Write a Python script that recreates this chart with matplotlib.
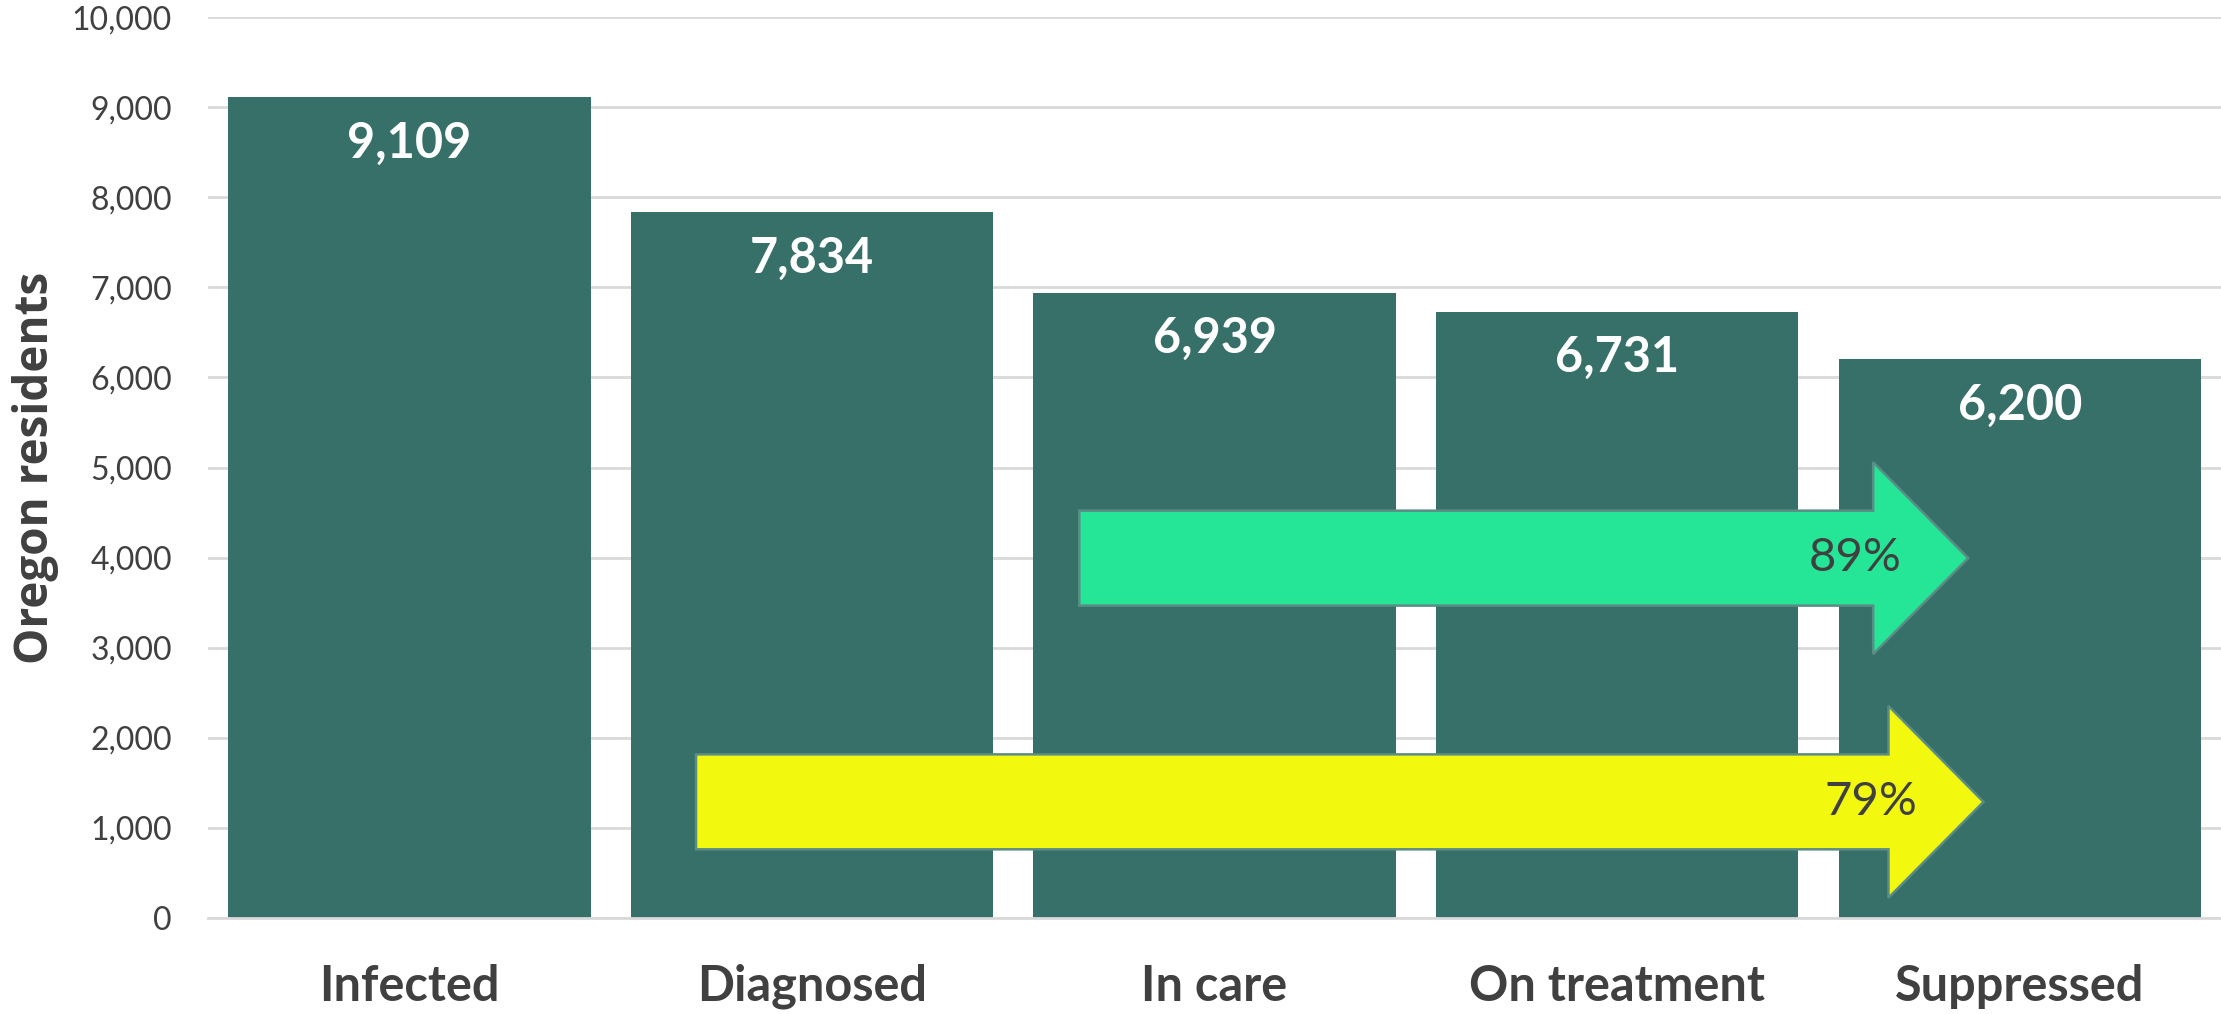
import numpy as np
import matplotlib
matplotlib.use('Agg')
import matplotlib.pyplot as plt
from matplotlib.patches import FancyArrow
from matplotlib.ticker import FuncFormatter

# HIV care continuum, Oregon
stages = ['Infected', 'Diagnosed', 'In care', 'On treatment', 'Suppressed']
residents = [9109, 7834, 6939, 6731, 6200]

# arrows: (from stage, to stage, fill colour)
ratio_arrows = [('In care', 'Suppressed', '#25e597'),
                ('Diagnosed', 'Suppressed', '#f2f90f')]

bar_color = '#376f69'
text_color = '#404040'
grid_color = '#d9d9d9'

plt.rcParams['font.family'] = ['Lato', 'DejaVu Sans']

fig = plt.figure(figsize=(22.21, 10.14), dpi=100)
ax = fig.add_axes([0.0937, 0.0947, 0.9063, 0.8885])

x = np.arange(len(stages))
ax.bar(x, residents, width=0.9, color=bar_color, zorder=2)

for xi, v in zip(x, residents):
    ax.text(xi, v - 510, '{:,}'.format(v), ha='center', va='center',
            color='white', fontsize=35, fontweight='bold', zorder=3)

# arrow geometry in data units
arrow_specs = [
    dict(tail=1.664, tip=3.872, y=3994),
    dict(tail=0.712, tip=3.910, y=1289),
]
for (a, b, col), spec in zip(ratio_arrows, arrow_specs):
    pct = residents[stages.index(b)] / residents[stages.index(a)]
    arr = FancyArrow(spec['tail'], spec['y'], spec['tip'] - spec['tail'], 0,
                     width=1054, head_width=2130, head_length=0.236,
                     length_includes_head=True, facecolor=col,
                     edgecolor='#5b8c86', linewidth=1.8, zorder=4)
    ax.add_patch(arr)
    ax.text(spec['tip'] - 0.28, spec['y'], '{:.0f}%'.format(pct * 100),
            ha='center', va='center', fontsize=34, color=text_color, zorder=5)

ax.set_xlim(-0.5, 4.5)
ax.set_ylim(0, 10000)
ax.set_yticks(np.arange(0, 10001, 1000))
ax.yaxis.set_major_formatter(FuncFormatter(lambda v, p: '{:,.0f}'.format(v)))
ax.set_xticks(x)
ax.set_xticklabels(stages, fontsize=35, fontweight='bold', color=text_color)
ax.tick_params(axis='y', length=0, pad=26, labelsize=23, labelcolor=text_color)
ax.tick_params(axis='x', length=0, pad=33)

ax.grid(axis='y', color=grid_color, linewidth=2, zorder=0)
ax.set_axisbelow(True)
for s in ['top', 'right', 'left']:
    ax.spines[s].set_visible(False)
ax.spines['bottom'].set_color(grid_color)
ax.spines['bottom'].set_linewidth(2)

ax.set_ylabel('Oregon residents', fontsize=33, fontweight='bold', color=text_color,
              family=['Open Sans', 'DejaVu Sans'])
ax.yaxis.set_label_coords(-0.074, 0.5)

fig.savefig('out.png', dpi=100)
